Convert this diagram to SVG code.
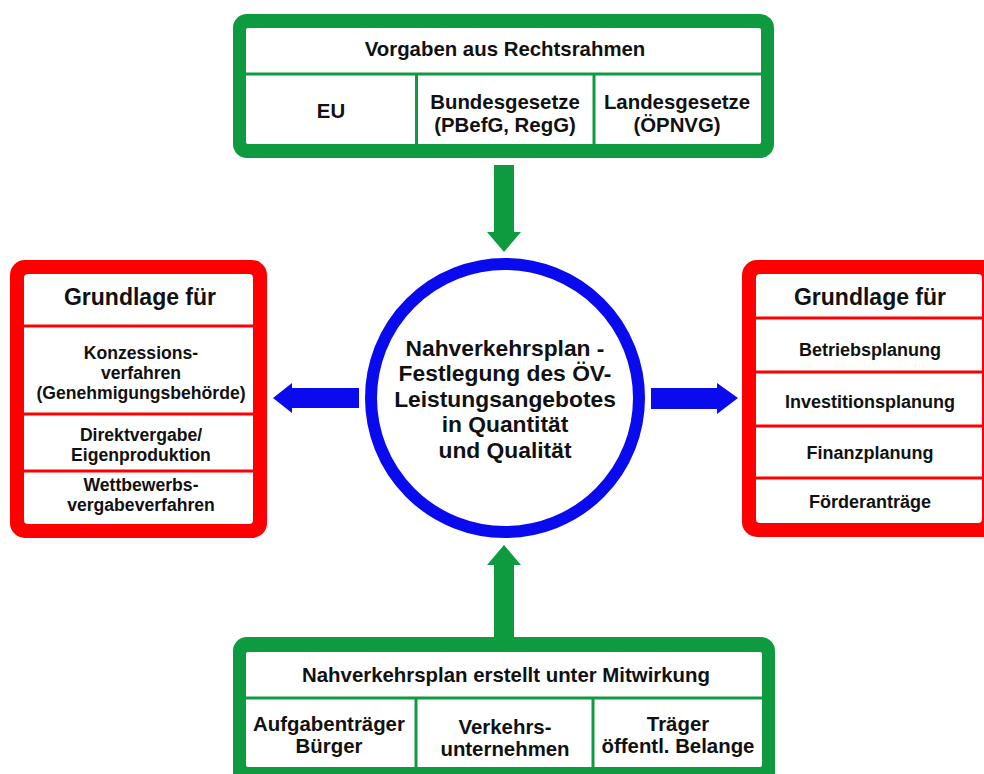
<svg xmlns="http://www.w3.org/2000/svg" width="984" height="774" viewBox="0 0 984 774">
<style>
  .t { font-family: "Liberation Sans", Arial, sans-serif; font-weight: bold; fill: #111; text-anchor: middle; }
  .gO { fill: #0e9a3e; }
  .rO { fill: #ff0000; }
  .in { fill: #ffffff; }
  .gl { stroke: #0e9a3e; stroke-width: 3; }
  .rl { stroke: #ff0000; stroke-width: 3; }
  .blue { fill: #0a0aef; }
  .green { fill: #0e9a3e; }
</style>
<rect width="984" height="774" fill="#ffffff"/>

<g id="connectors">
  <polygon class="green" points="494,165 514,165 514,232 521,232 504,252 487,232 494,232"/>
  <polygon class="green" points="494,640 514,640 514,565 521,565 504,545 487,565 494,565"/>
  <polygon class="blue" points="359,388 359,408 292,408 292,413 273,398 292,383 292,388"/>
  <polygon class="blue" points="651,388 651,409 717,409 717,414 738,398 717,383 717,388"/>
</g>

<g id="top-box">
  <rect class="gO" x="233" y="14" width="541" height="144" rx="14"/>
  <rect class="in" x="246" y="28" width="515" height="116" rx="2"/>
  <line class="gl" x1="246" y1="74" x2="761" y2="74"/>
  <line class="gl" x1="416.5" y1="74" x2="416.5" y2="144"/>
  <line class="gl" x1="594" y1="74" x2="594" y2="144"/>
  <text class="t" x="505" y="56" font-size="20.4">Vorgaben aus Rechtsrahmen</text>
  <text class="t" x="331" y="118" font-size="20.4">EU</text>
  <text class="t" x="505" y="109" font-size="20.4">Bundesgesetze</text>
  <text class="t" x="505" y="132" font-size="20.4">(PBefG, RegG)</text>
  <text class="t" x="677" y="109" font-size="20.4">Landesgesetze</text>
  <text class="t" x="677" y="132" font-size="20.4">(ÖPNVG)</text>
</g>

<g id="center">
  <circle cx="505" cy="398" r="134" fill="#ffffff" stroke="#0a0aef" stroke-width="12"/>
  <text class="t" x="505" y="356" font-size="22.8">Nahverkehrsplan -</text>
  <text class="t" x="505" y="381" font-size="22.8">Festlegung des ÖV-</text>
  <text class="t" x="505" y="407" font-size="22.8">Leistungsangebotes</text>
  <text class="t" x="505" y="432" font-size="22.8">in Quantität</text>
  <text class="t" x="505" y="458" font-size="22.8">und Qualität</text>
</g>

<g id="left-box">
  <rect class="rO" x="10" y="260" width="257" height="278" rx="15"/>
  <rect class="in" x="24" y="274" width="229" height="250" rx="4"/>
  <line class="rl" x1="24" y1="326" x2="253" y2="326"/>
  <line class="rl" x1="24" y1="414" x2="253" y2="414"/>
  <line class="rl" x1="24" y1="471" x2="253" y2="471"/>
  <text class="t" x="140" y="305" font-size="23">Grundlage für</text>
  <text class="t" x="141" y="359" font-size="17.6">Konzessions-</text>
  <text class="t" x="141" y="379" font-size="17.6">verfahren</text>
  <text class="t" x="141" y="399" font-size="17.6">(Genehmigungsbehörde)</text>
  <text class="t" x="141" y="441" font-size="17.6">Direktvergabe/</text>
  <text class="t" x="141" y="461" font-size="17.6">Eigenproduktion</text>
  <text class="t" x="141" y="491" font-size="17.6">Wettbewerbs-</text>
  <text class="t" x="141" y="511" font-size="17.6">vergabeverfahren</text>
</g>

<g id="right-box">
  <rect class="rO" x="742" y="260" width="256" height="277" rx="15"/>
  <rect class="in" x="756" y="274" width="226" height="249" rx="4"/>
  <line class="rl" x1="756" y1="318" x2="982" y2="318"/>
  <line class="rl" x1="756" y1="372" x2="982" y2="372"/>
  <line class="rl" x1="756" y1="426" x2="982" y2="426"/>
  <line class="rl" x1="756" y1="478" x2="982" y2="478"/>
  <text class="t" x="870" y="305" font-size="23">Grundlage für</text>
  <text class="t" x="870" y="356" font-size="18">Betriebsplanung</text>
  <text class="t" x="870" y="408" font-size="18">Investitionsplanung</text>
  <text class="t" x="870" y="459" font-size="18">Finanzplanung</text>
  <text class="t" x="870" y="508" font-size="18">Förderanträge</text>
</g>

<g id="bottom-box">
  <rect class="gO" x="233" y="637" width="542" height="150" rx="14"/>
  <rect class="in" x="246" y="652" width="516" height="115" rx="2"/>
  <line class="gl" x1="246" y1="698" x2="762" y2="698"/>
  <line class="gl" x1="416" y1="698" x2="416" y2="767"/>
  <line class="gl" x1="593" y1="698" x2="593" y2="767"/>
  <text class="t" x="506" y="682" font-size="20.4">Nahverkehrsplan erstellt unter Mitwirkung</text>
  <text class="t" x="329" y="731" font-size="20.4">Aufgabenträger</text>
  <text class="t" x="329" y="753" font-size="20.4">Bürger</text>
  <text class="t" x="505" y="734" font-size="20.4">Verkehrs-</text>
  <text class="t" x="505" y="756" font-size="20.4">unternehmen</text>
  <text class="t" x="678" y="731" font-size="20.4">Träger</text>
  <text class="t" x="678" y="753" font-size="20.4">öffentl. Belange</text>
</g>
</svg>
